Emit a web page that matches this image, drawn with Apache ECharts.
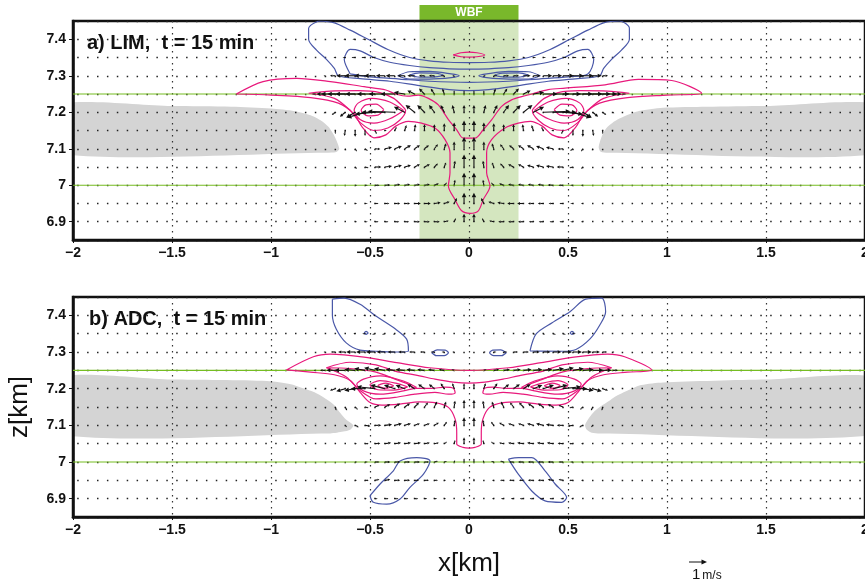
<!DOCTYPE html>
<html>
<head>
<meta charset="utf-8">
<title>LIM / ADC cross sections</title>
<script src="https://cdn.jsdelivr.net/npm/echarts@6/dist/echarts.min.js"></script>
<style>
  html, body { margin: 0; padding: 0; background: #fff; overflow: hidden; }
  #chart { width: 865px; height: 582px; }
</style>
</head>
<body>
<div id="chart"></div>
<script>
var FONT = '"Liberation Sans", Arial, Helvetica, sans-serif';

// axis ranges and tick labels
var xRange = [-2, 2];
var zRange = [6.85, 7.45];
var zTicks = [6.9, 7.0, 7.1, 7.2, 7.3, 7.4];
var greenLevels = [7.0, 7.25];
var wbfRange = [-0.25, 0.25];

// vector grid (km) and wind components (m/s), rows = vecZ, cols = vecX
var vecX = [-0.775,-0.725,-0.675,-0.625,-0.575,-0.525,-0.475,-0.425,-0.375,-0.325,-0.275,-0.225,-0.175,-0.125,-0.075,-0.025,
             0.025,0.075,0.125,0.175,0.225,0.275,0.325,0.375,0.425,0.475,0.525,0.575,0.625,0.675,0.725,0.775];
var vecZ = [6.90, 6.95, 7.00, 7.05, 7.10, 7.15, 7.20, 7.25, 7.30, 7.35, 7.40];

var uLIM = [
  [0,0,0,0.05,0.1,0.15,0.2,0.2,0.25,0.25,0.3,0.3,0.3,0.25,0.1,0, 0,-0.1,-0.25,-0.3,-0.3,-0.3,-0.25,-0.25,-0.2,-0.2,-0.15,-0.1,-0.05,0,0,0],
  [0,0,0,0.05,0.1,0.15,0.2,0.25,0.3,0.3,0.35,0.35,0.35,0.3,0.15,0, 0,-0.15,-0.3,-0.35,-0.35,-0.35,-0.3,-0.3,-0.25,-0.2,-0.15,-0.1,-0.05,0,0,0],
  [0,0,0,0,0.1,0.15,0.25,0.3,0.3,0.3,0.3,0.3,0.25,0.15,0.05,0, 0,-0.05,-0.15,-0.25,-0.3,-0.3,-0.3,-0.3,-0.3,-0.25,-0.15,-0.1,0,0,0,0],
  [0,0,0,0,0.1,0.2,0.35,0.4,0.4,0.35,0.3,0.3,0.2,0.1,0.05,0, 0,-0.05,-0.1,-0.2,-0.3,-0.3,-0.35,-0.4,-0.4,-0.35,-0.2,-0.1,0,0,0,0],
  [0,0,0,0.05,0.1,0.15,0.3,0.4,0.4,0.35,0.3,0.25,0.2,0.1,0,0, 0,0,-0.1,-0.2,-0.25,-0.3,-0.35,-0.4,-0.4,-0.3,-0.15,-0.1,-0.05,0,0,0],
  [0,0,0,-0.05,0,0,0.1,0.1,0.1,0.1,0.05,0,0,0,0,0, 0,0,0,0,0,-0.05,-0.1,-0.1,-0.1,-0.1,0,0,0.05,0,0,0],
  [0,-0.1,-0.2,-0.3,-0.5,-1.0,-1.1,-1.3,-1.5,-0.6,-0.5,-0.4,-0.3,-0.2,-0.1,0, 0,0.1,0.2,0.3,0.4,0.5,0.6,1.5,1.3,1.1,1.0,0.5,0.3,0.2,0.1,0],
  [-0.2,-0.5,-0.8,-1.0,-1.1,-1.1,-1.0,-0.9,-0.8,-0.6,-0.4,-0.3,-0.2,-0.1,0,0, 0,0,0.1,0.2,0.3,0.4,0.6,0.8,0.9,1.0,1.1,1.1,1.0,0.8,0.5,0.2],
  [0,-0.1,-0.3,-0.5,-0.6,-0.6,-0.6,-0.5,-0.5,-0.4,-0.4,-0.3,-0.3,-0.2,-0.1,0, 0,0.1,0.2,0.3,0.3,0.4,0.4,0.5,0.5,0.6,0.6,0.6,0.5,0.3,0.1,0],
  [0,0,-0.1,-0.15,-0.2,-0.2,-0.2,-0.2,-0.15,-0.15,-0.1,-0.1,-0.1,-0.05,0,0, 0,0,0.05,0.1,0.1,0.1,0.15,0.15,0.2,0.2,0.2,0.2,0.15,0.1,0,0],
  [0,0,0,-0.1,-0.15,-0.15,-0.15,-0.1,-0.1,-0.1,-0.05,0,0,0,0,0, 0,0,0,0,0,0.05,0.1,0.1,0.1,0.15,0.15,0.15,0.1,0,0,0]
];
var wLIM = [
  [0,0,0,0,0,0,0,0,0,0,0,0,0,0.05,0.2,0.45, 0.45,0.2,0.05,0,0,0,0,0,0,0,0,0,0,0,0,0],
  [0,0,0,0,0,0,0,0,0,0,0,0,0.05,0.1,0.3,0.6, 0.6,0.3,0.1,0.05,0,0,0,0,0,0,0,0,0,0,0,0],
  [0,0,0,0,0,0,0,0.02,0.05,0.05,0.05,0.05,0.1,0.15,0.3,0.7, 0.7,0.3,0.15,0.1,0.05,0.05,0.05,0.05,0.02,0,0,0,0,0,0,0],
  [0,0,0,-0.05,-0.1,-0.05,0,0.05,0.1,0.1,0.15,0.15,0.2,0.25,0.35,0.7, 0.7,0.35,0.25,0.2,0.15,0.15,0.1,0.1,0.05,0,-0.05,-0.1,-0.05,0,0,0],
  [0,0,0,-0.1,-0.15,-0.12,-0.02,0.08,0.15,0.2,0.2,0.2,0.25,0.3,0.4,0.65, 0.65,0.4,0.3,0.25,0.2,0.2,0.2,0.15,0.08,-0.02,-0.12,-0.15,-0.1,0,0,0],
  [0,-0.1,-0.2,-0.3,-0.35,-0.3,-0.2,0,0.2,0.3,0.35,0.35,0.35,0.4,0.45,0.55, 0.55,0.45,0.4,0.35,0.35,0.35,0.3,0.2,0,-0.2,-0.3,-0.35,-0.3,-0.2,-0.1,0],
  [0,-0.05,-0.15,-0.25,-0.3,-0.3,-0.1,0,0.05,0.3,0.4,0.4,0.4,0.4,0.4,0.4, 0.4,0.4,0.4,0.4,0.4,0.4,0.3,0.05,0,-0.1,-0.3,-0.3,-0.25,-0.15,-0.05,0],
  [0,0,0,0,0,0,0,0,0,0.1,0.2,0.3,0.3,0.3,0.2,0.2, 0.2,0.2,0.3,0.3,0.3,0.2,0.1,0,0,0,0,0,0,0,0,0],
  [0,0,0,0,0,0,0,0,0,0,0,0,0,0,0,0, 0,0,0,0,0,0,0,0,0,0,0,0,0,0,0,0],
  [0,0,0,0,0,0,0,0,0,0,0,0,0,0,0,0, 0,0,0,0,0,0,0,0,0,0,0,0,0,0,0,0],
  [0,0,0,0,0,0,0,0,0,0,0,0,0,0,0,0, 0,0,0,0,0,0,0,0,0,0,0,0,0,0,0,0]
];
var uADC = [
  [0,0,0,0,0.05,0.1,0.15,0.2,0.2,0.2,0.2,0.15,0.15,0.1,0.05,0, 0,-0.05,-0.1,-0.15,-0.15,-0.2,-0.2,-0.2,-0.2,-0.15,-0.1,-0.05,0,0,0,0],
  [0,0,0,0.05,0.1,0.2,0.25,0.3,0.3,0.3,0.25,0.25,0.2,0.1,0.05,0, 0,-0.05,-0.1,-0.2,-0.25,-0.25,-0.3,-0.3,-0.3,-0.25,-0.2,-0.1,-0.05,0,0,0],
  [0,0,0,0.05,0.1,0.15,0.25,0.3,0.3,0.3,0.3,0.25,0.2,0.15,0.05,0, 0,-0.05,-0.15,-0.2,-0.25,-0.3,-0.3,-0.3,-0.3,-0.25,-0.15,-0.1,-0.05,0,0,0],
  [0,0,0,0.05,0.1,0.2,0.3,0.35,0.35,0.35,0.35,0.3,0.25,0.15,0.05,0, 0,-0.05,-0.15,-0.25,-0.3,-0.35,-0.35,-0.35,-0.35,-0.3,-0.2,-0.1,-0.05,0,0,0],
  [0,0,0.05,0.1,0.2,0.3,0.35,0.4,0.4,0.35,0.3,0.3,0.25,0.15,0.05,0, 0,-0.05,-0.15,-0.25,-0.3,-0.3,-0.35,-0.4,-0.4,-0.35,-0.3,-0.2,-0.1,-0.05,0,0],
  [0,0,0.05,0.1,0.15,0.2,0.25,0.3,0.3,0.3,0.25,0.2,0.15,0.1,0.05,0, 0,-0.05,-0.1,-0.15,-0.2,-0.25,-0.3,-0.3,-0.3,-0.25,-0.2,-0.15,-0.1,-0.05,0,0],
  [0,-0.1,-0.3,-0.5,-0.6,-0.8,-1.0,-0.8,-0.6,-0.5,-0.4,-0.35,-0.3,-0.2,-0.1,0, 0,0.1,0.2,0.3,0.35,0.4,0.5,0.6,0.8,1.0,0.8,0.6,0.5,0.3,0.1,0],
  [-0.1,-0.3,-0.5,-0.6,-0.6,-0.6,-0.6,-0.6,-0.5,-0.5,-0.45,-0.4,-0.35,-0.3,-0.15,0, 0,0.15,0.3,0.35,0.4,0.45,0.5,0.5,0.6,0.6,0.6,0.6,0.6,0.5,0.3,0.1],
  [0,-0.1,-0.25,-0.4,-0.5,-0.5,-0.5,-0.45,-0.4,-0.35,-0.3,-0.25,-0.2,-0.15,-0.1,0, 0,0.1,0.15,0.2,0.25,0.3,0.35,0.4,0.45,0.5,0.5,0.5,0.4,0.25,0.1,0],
  [0,0,0,0,-0.1,-0.15,-0.15,-0.15,-0.1,-0.1,-0.1,-0.05,-0.05,0,0,0, 0,0,0,0.05,0.05,0.1,0.1,0.1,0.15,0.15,0.15,0.1,0,0,0,0],
  [0,0,0,0,-0.05,-0.1,-0.1,-0.1,-0.1,-0.05,0,0,0,0,0,0, 0,0,0,0,0,0,0.05,0.1,0.1,0.1,0.1,0.05,0,0,0,0]
];
var wADC = [
  [0,0,0,0,0,0,0,0,0,0,0,0,0,0,0,0, 0,0,0,0,0,0,0,0,0,0,0,0,0,0,0,0],
  [0,0,0,0,0,0,0.05,0.05,0,0,0,0,0,0,0.05,0.1, 0.1,0.05,0,0,0,0,0,0,0.05,0.05,0,0,0,0,0,0],
  [0,0,0,0,0,0,0,0,0,0,0,0,0.05,0.05,0.1,0.2, 0.2,0.1,0.05,0.05,0,0,0,0,0,0,0,0,0,0,0,0],
  [0,0,0,0,0,0,0.02,0.05,0.05,0.05,0.05,0.05,0.05,0.1,0.2,0.35, 0.35,0.2,0.1,0.05,0.05,0.05,0.05,0.05,0.05,0.02,0,0,0,0,0,0],
  [0,0,-0.05,-0.1,-0.1,-0.05,0,0.05,0.1,0.1,0.1,0.1,0.15,0.2,0.3,0.45, 0.45,0.3,0.2,0.15,0.1,0.1,0.1,0.1,0.05,0,-0.05,-0.1,-0.1,-0.05,0,0],
  [0,-0.1,-0.2,-0.2,-0.15,-0.05,0.1,0.15,0.2,0.2,0.25,0.25,0.3,0.3,0.35,0.4, 0.4,0.35,0.3,0.3,0.25,0.25,0.2,0.2,0.15,0.1,-0.05,-0.15,-0.2,-0.2,-0.1,0],
  [0,-0.05,-0.1,-0.15,-0.1,0,0.1,0.2,0.2,0.2,0.25,0.25,0.25,0.3,0.3,0.3, 0.3,0.3,0.3,0.25,0.25,0.25,0.2,0.2,0.2,0.1,0,-0.1,-0.15,-0.1,-0.05,0],
  [0,0,0,0,0.05,0.1,0.15,0.1,0.05,0.05,0.05,0.05,0.05,0.05,0.05,0.05, 0.05,0.05,0.05,0.05,0.05,0.05,0.05,0.05,0.1,0.15,0.1,0.05,0,0,0,0],
  [0,0,0,0,0,0,0,0,0,0,0,0,0,0,0,0, 0,0,0,0,0,0,0,0,0,0,0,0,0,0,0,0],
  [0,0,0,0,0,0,-0.05,-0.05,-0.05,-0.05,0,0,0,0,0,0, 0,0,0,0,0,0,-0.05,-0.05,-0.05,-0.05,0,0,0,0,0,0],
  [0,0,0,0,0,0,0,0,0,0,0,0,0,0,0,0, 0,0,0,0,0,0,0,0,0,0,0,0,0,0,0,0]
];

// shaded cloud layers [x km, z km]
var cloudLIM = [
  [[-2.1,7.218],[-1.5,7.217],[-1.2,7.215],[-1.0,7.21],[-0.88,7.203],[-0.80,7.192],[-0.75,7.178],[-0.71,7.16],[-0.68,7.135],[-0.655,7.10],[-0.67,7.091],[-0.72,7.089],[-2.1,7.089]],
  [[2.1,7.218],[1.5,7.217],[1.2,7.215],[0.98,7.212],[0.85,7.202],[0.75,7.18],[0.70,7.16],[0.675,7.14],[0.655,7.105],[0.665,7.092],[0.70,7.089],[2.1,7.089]]
];
var cloudADC = [
  [[-2.1,7.227],[-1.5,7.225],[-1.02,7.221],[-0.90,7.212],[-0.85,7.203],[-0.78,7.19],[-0.72,7.171],[-0.68,7.155],[-0.652,7.135],[-0.62,7.115],[-0.584,7.10],[-0.60,7.088],[-0.635,7.083],[-0.70,7.078],[-2.1,7.078]],
  [[2.1,7.226],[1.5,7.225],[0.98,7.217],[0.87,7.21],[0.813,7.198],[0.75,7.182],[0.695,7.162],[0.655,7.148],[0.628,7.135],[0.60,7.115],[0.586,7.10],[0.595,7.088],[0.62,7.08],[0.66,7.078],[2.1,7.078]]
];

// contour lines [x km, z km]
var pinkLIM = [
  [[-1.175,7.250],[-1.04,7.284],[-0.87,7.293],[-0.70,7.284],[-0.53,7.270],[-0.42,7.261],[-0.37,7.250],[-0.31,7.244],[-0.256,7.247],[-0.205,7.238],[-0.155,7.220],[-0.104,7.180],[-0.062,7.152],[-0.029,7.129],[0.030,7.129],[0.072,7.152],[0.114,7.179],[0.165,7.216],[0.215,7.234],[0.266,7.243],[0.317,7.250],[0.40,7.262],[0.485,7.266],[0.687,7.275],[0.855,7.290],[1.024,7.287],[1.175,7.252],[1.0,7.247],[0.80,7.240],[0.66,7.225],[0.58,7.195],[0.54,7.160],[0.48,7.130],[0.42,7.138],[0.37,7.162],[0.31,7.175],[0.249,7.170],[0.182,7.157],[0.114,7.125],[0.089,7.089],[0.089,7.034],[0.106,6.998],[0.072,6.961],[0.047,6.930],[0.005,6.923],[-0.037,6.930],[-0.071,6.961],[-0.104,6.998],[-0.096,7.034],[-0.096,7.089],[-0.121,7.125],[-0.172,7.157],[-0.239,7.170],[-0.306,7.175],[-0.37,7.162],[-0.42,7.138],[-0.48,7.130],[-0.54,7.160],[-0.58,7.195],[-0.66,7.225],[-0.80,7.240],[-1.0,7.247],[-1.175,7.250]],
  [[-0.81,7.252],[-0.70,7.258],[-0.56,7.259],[-0.45,7.254],[-0.38,7.238],[-0.33,7.213],[-0.32,7.205],[-0.35,7.178],[-0.41,7.157],[-0.48,7.150],[-0.55,7.172],[-0.60,7.205],[-0.68,7.238],[-0.81,7.252]],
  [[0.81,7.252],[0.70,7.258],[0.56,7.259],[0.45,7.254],[0.38,7.238],[0.33,7.213],[0.32,7.205],[0.35,7.178],[0.41,7.157],[0.48,7.150],[0.55,7.172],[0.60,7.205],[0.68,7.238],[0.81,7.252]],
  [[-0.33,7.205],[-0.40,7.228],[-0.49,7.238],[-0.56,7.225],[-0.58,7.205],[-0.55,7.180],[-0.48,7.170],[-0.40,7.182],[-0.33,7.205]],
  [[0.33,7.205],[0.40,7.228],[0.49,7.238],[0.56,7.225],[0.58,7.205],[0.55,7.180],[0.48,7.170],[0.40,7.182],[0.33,7.205]],
  [[-0.43,7.207],[-0.47,7.222],[-0.52,7.220],[-0.545,7.205],[-0.51,7.190],[-0.46,7.192],[-0.43,7.207]],
  [[0.43,7.207],[0.47,7.222],[0.52,7.220],[0.545,7.205],[0.51,7.190],[0.46,7.192],[0.43,7.207]],
  [[-0.08,7.357],[-0.04,7.363],[0,7.365],[0.04,7.363],[0.08,7.357],[0.04,7.352],[0,7.351],[-0.04,7.352],[-0.08,7.357]]
];
var blueLIM = [
  [[-0.76,7.450],[-0.68,7.445],[-0.60,7.425],[-0.51,7.400],[-0.41,7.372],[-0.30,7.350],[-0.20,7.341],[-0.10,7.337],[0,7.336],[0.10,7.337],[0.20,7.341],[0.30,7.350],[0.41,7.372],[0.51,7.400],[0.60,7.425],[0.68,7.445],[0.76,7.450],[0.81,7.430],[0.81,7.400],[0.77,7.370],[0.72,7.345],[0.68,7.320],[0.66,7.300],[0.55,7.292],[0.40,7.285],[0.25,7.273],[0.10,7.262],[0,7.259],[-0.10,7.262],[-0.25,7.273],[-0.40,7.285],[-0.55,7.292],[-0.66,7.300],[-0.68,7.320],[-0.72,7.345],[-0.77,7.370],[-0.81,7.400],[-0.81,7.430],[-0.76,7.450]],
  [[-0.60,7.305],[-0.63,7.345],[-0.60,7.372],[-0.55,7.368],[-0.48,7.350],[-0.40,7.337],[-0.30,7.328],[-0.20,7.322],[-0.10,7.319],[0,7.318],[0.10,7.319],[0.20,7.322],[0.30,7.328],[0.40,7.337],[0.48,7.350],[0.55,7.368],[0.60,7.372],[0.63,7.345],[0.60,7.305],[0.50,7.297],[0.35,7.291],[0.20,7.285],[0,7.282],[-0.20,7.285],[-0.35,7.291],[-0.50,7.297],[-0.60,7.305]],
  [[-0.36,7.300],[-0.30,7.311],[-0.20,7.312],[-0.09,7.305],[-0.05,7.300],[-0.09,7.295],[-0.20,7.291],[-0.30,7.291],[-0.36,7.300]],
  [[0.36,7.300],[0.30,7.311],[0.20,7.312],[0.09,7.305],[0.05,7.300],[0.09,7.295],[0.20,7.291],[0.30,7.291],[0.36,7.300]],
  [[-0.30,7.302],[-0.25,7.308],[-0.17,7.307],[-0.13,7.302],[-0.17,7.297],[-0.25,7.296],[-0.30,7.302]],
  [[0.30,7.302],[0.25,7.308],[0.17,7.307],[0.13,7.302],[0.17,7.297],[0.25,7.296],[0.30,7.302]]
];
var pinkADC = [
  [[-0.922,7.251],[-0.786,7.287],[-0.70,7.294],[-0.53,7.286],[-0.365,7.271],[-0.2,7.257],[0,7.250],[0.2,7.257],[0.365,7.271],[0.53,7.286],[0.70,7.294],[0.786,7.287],[0.922,7.251],[0.80,7.245],[0.68,7.238],[0.60,7.222],[0.55,7.19],[0.50,7.162],[0.44,7.155],[0.35,7.158],[0.25,7.164],[0.172,7.162],[0.104,7.149],[0.07,7.117],[0.062,7.08],[0.062,7.049],[0.03,7.040],[0,7.038],[-0.03,7.040],[-0.062,7.049],[-0.062,7.08],[-0.07,7.117],[-0.104,7.149],[-0.172,7.162],[-0.25,7.164],[-0.35,7.158],[-0.44,7.155],[-0.50,7.162],[-0.55,7.19],[-0.60,7.222],[-0.68,7.238],[-0.80,7.245],[-0.922,7.251]],
  [[-0.72,7.257],[-0.60,7.272],[-0.47,7.265],[-0.374,7.248],[-0.25,7.235],[-0.172,7.226],[-0.08,7.218],[0,7.215],[0.08,7.218],[0.172,7.226],[0.25,7.235],[0.374,7.248],[0.47,7.265],[0.60,7.272],[0.72,7.257]],
  [[-0.72,7.257],[-0.62,7.232],[-0.55,7.195],[-0.47,7.172],[-0.374,7.176],[-0.273,7.185],[-0.172,7.19],[-0.104,7.185],[-0.07,7.189],[-0.079,7.201],[-0.121,7.204],[-0.188,7.201],[-0.273,7.201],[-0.306,7.212],[-0.374,7.226],[-0.47,7.245],[-0.60,7.255],[-0.72,7.257]],
  [[0.72,7.257],[0.62,7.232],[0.55,7.195],[0.47,7.172],[0.374,7.176],[0.273,7.185],[0.172,7.19],[0.104,7.185],[0.07,7.189],[0.079,7.201],[0.121,7.204],[0.188,7.201],[0.273,7.201],[0.306,7.212],[0.374,7.226],[0.47,7.245],[0.60,7.255],[0.72,7.257]],
  [[-0.264,7.203],[-0.331,7.221],[-0.449,7.235],[-0.533,7.226],[-0.567,7.212],[-0.533,7.194],[-0.449,7.185],[-0.331,7.194],[-0.264,7.203]],
  [[0.264,7.203],[0.331,7.221],[0.449,7.235],[0.533,7.226],[0.567,7.212],[0.533,7.194],[0.449,7.185],[0.331,7.194],[0.264,7.203]],
  [[-0.31,7.205],[-0.37,7.215],[-0.45,7.222],[-0.50,7.21],[-0.46,7.197],[-0.38,7.196],[-0.31,7.205]],
  [[0.31,7.205],[0.37,7.215],[0.45,7.222],[0.50,7.21],[0.46,7.197],[0.38,7.196],[0.31,7.205]],
  [[-0.38,7.208],[-0.42,7.215],[-0.46,7.208],[-0.42,7.201],[-0.38,7.208]],
  [[0.38,7.208],[0.42,7.215],[0.46,7.208],[0.42,7.201],[0.38,7.208]]
];
var blueADC = [
  [[-0.69,7.444],[-0.63,7.447],[-0.55,7.43],[-0.47,7.398],[-0.37,7.362],[-0.315,7.335],[-0.306,7.303],[-0.38,7.300],[-0.47,7.302],[-0.55,7.305],[-0.62,7.325],[-0.67,7.362],[-0.69,7.40],[-0.69,7.444]],
  [[0.308,7.303],[0.34,7.35],[0.42,7.38],[0.51,7.41],[0.59,7.444],[0.67,7.447],[0.69,7.41],[0.66,7.373],[0.61,7.335],[0.54,7.307],[0.475,7.302],[0.308,7.303]],
  [[-0.53,7.352],[-0.52,7.356],[-0.51,7.352],[-0.52,7.348],[-0.53,7.352]],
  [[0.51,7.352],[0.52,7.356],[0.53,7.352],[0.52,7.348],[0.51,7.352]],
  [[-0.188,7.298],[-0.16,7.306],[-0.12,7.305],[-0.104,7.298],[-0.125,7.29],[-0.165,7.29],[-0.188,7.298]],
  [[0.188,7.298],[0.16,7.306],[0.12,7.305],[0.104,7.298],[0.125,7.29],[0.165,7.29],[0.188,7.298]],
  [[-0.5,6.908],[-0.449,6.94],[-0.382,6.976],[-0.348,7.003],[-0.264,7.012],[-0.197,7.003],[-0.23,6.967],[-0.298,6.931],[-0.348,6.899],[-0.416,6.885],[-0.483,6.89],[-0.5,6.908]],
  [[0.199,7.008],[0.25,7.012],[0.317,7.012],[0.384,6.976],[0.435,6.94],[0.493,6.903],[0.468,6.89],[0.384,6.894],[0.317,6.921],[0.249,6.967],[0.199,7.008]]
];

var PINK = '#e8197c', BLUE = '#4a58a8', GREEN = '#76bd22', GRAY = '#d4d4d4';
var ARROW_PX = 18; // pixels per 1 m/s

var chart = echarts.init(document.getElementById('chart'));

function fmtX(v) { return v < 0 ? '\u2212' + (-v) : String(v); }
function fmtZ(v) { return String(Math.round(v * 10) / 10); }

function xAxisFor(g, named) {
  return {
    type: 'value', gridIndex: g, min: xRange[0], max: xRange[1], interval: 0.5,
    axisLine: { show: true, onZero: false, lineStyle: { color: '#111', width: 2.5 } },
    axisTick: { show: true, length: 3, lineStyle: { color: '#111' } },
    axisLabel: { formatter: fmtX, fontSize: 14, fontWeight: 'bold', color: '#111', fontFamily: FONT, margin: 6 },
    splitLine: { show: true, lineStyle: { color: '#333', width: 1.2, type: [1.5, 4.5] } },
    name: named ? 'x[km]' : '', nameLocation: 'middle', nameGap: 34,
    nameTextStyle: { fontSize: 26, fontFamily: FONT, color: '#111' }
  };
}
function yAxisFor(g, named) {
  return {
    type: 'value', gridIndex: g, min: zRange[0], max: zRange[1], position: 'left',
    axisLine: { show: true, onZero: false, lineStyle: { color: '#111', width: 2.5 } },
    axisTick: { show: true, length: 4, customValues: zTicks, lineStyle: { color: '#111' } },
    axisLabel: { customValues: zTicks, formatter: fmtZ, fontSize: 14, fontWeight: 'bold', color: '#111', fontFamily: FONT, margin: 7 },
    splitLine: { show: false },
    name: named ? 'z[km]' : '', nameLocation: 'middle', nameGap: 40, nameRotate: 90,
    nameTextStyle: { fontSize: 26, fontFamily: FONT, color: '#111' }
  };
}
function dotAxisFor(g) {
  return {
    type: 'value', gridIndex: g, min: zRange[0], max: zRange[1], interval: 0.05, position: 'right',
    axisLine: { show: false }, axisTick: { show: false }, axisLabel: { show: false },
    splitLine: { show: true, lineStyle: { color: '#222', width: 1.3, type: [1.5, 8.4], dashOffset: 5.7 } }
  };
}

function contourSeries(list, color, g) {
  return list.map(function (pts) {
    return {
      type: 'line', xAxisIndex: g, yAxisIndex: g * 2, data: pts, symbol: 'none', smooth: 0.3,
      silent: true, z: 3, lineStyle: { color: color, width: 1.2 }
    };
  });
}
function cloudSeries(list, g) {
  return {
    type: 'custom', xAxisIndex: g, yAxisIndex: g * 2, z: -1, silent: true, clip: true,
    data: list.map(function (p, i) { return [i, 7]; }),
    renderItem: function (params, api) {
      var pts = list[params.dataIndex].map(function (d) { return api.coord(d); });
      return { type: 'polygon', shape: { points: pts, smooth: 0.25 }, style: { fill: GRAY } };
    }
  };
}
function greenSeries(g) {
  return greenLevels.map(function (z) {
    return {
      type: 'line', xAxisIndex: g, yAxisIndex: g * 2, data: [[xRange[0], z], [xRange[1], z]],
      symbol: 'none', silent: true, z: 2, lineStyle: { color: GREEN, width: 1.2 }
    };
  });
}
function vectorSeries(u, w, g) {
  var data = [];
  vecZ.forEach(function (z, r) {
    vecX.forEach(function (x, c) {
      if (u[r][c] !== 0 || w[r][c] !== 0) data.push([x, z, u[r][c], w[r][c]]);
    });
  });
  return {
    type: 'custom', xAxisIndex: g, yAxisIndex: g * 2, z: 5, silent: true, clip: true,
    dimensions: ['x', 'z', 'u', 'w'], encode: { x: 0, y: 1 }, data: data,
    renderItem: function (params, api) {
      var p = api.coord([api.value(0), api.value(1)]);
      var dx = api.value(2) * ARROW_PX, dy = -api.value(3) * ARROW_PX;
      var len = Math.sqrt(dx * dx + dy * dy);
      if (len < 1.5) return null;
      var ux = dx / len, uy = dy / len;
      var hl = Math.min(4.5, len * 0.45), hw = hl * 0.5;
      var tip = [p[0] + dx, p[1] + dy];
      var b = [tip[0] - ux * hl, tip[1] - uy * hl];
      return {
        type: 'group', children: [
          { type: 'line', shape: { x1: p[0], y1: p[1], x2: b[0], y2: b[1] }, style: { stroke: '#111', lineWidth: 1.1 } },
          { type: 'polygon', shape: { points: [tip, [b[0] - uy * hw, b[1] + ux * hw], [b[0] + uy * hw, b[1] - ux * hw]] }, style: { fill: '#111' } }
        ]
      };
    }
  };
}

var wbfSeries = {
  type: 'custom', xAxisIndex: 0, yAxisIndex: 0, z: -1, silent: true, clip: false,
  data: [[0, 7]],
  renderItem: function (params, api) {
    var tl = api.coord([wbfRange[0], zRange[1]]);
    var br = api.coord([wbfRange[1], zRange[0]]);
    return {
      type: 'group', children: [
        { type: 'rect', shape: { x: tl[0], y: tl[1], width: br[0] - tl[0], height: br[1] - tl[1] }, style: { fill: '#d4e6bf' } },
        { type: 'rect', shape: { x: tl[0], y: tl[1] - 16, width: br[0] - tl[0], height: 16 }, style: { fill: '#79b82b' } },
        { type: 'text', style: { text: 'WBF', x: (tl[0] + br[0]) / 2, y: tl[1] - 8, align: 'center', verticalAlign: 'middle', fill: '#fff', font: 'bold 12px ' + FONT } }
      ]
    };
  }
};

var series = [wbfSeries, cloudSeries(cloudLIM, 0), cloudSeries(cloudADC, 1)]
  .concat(greenSeries(0), greenSeries(1))
  .concat(contourSeries(pinkLIM, PINK, 0), contourSeries(blueLIM, BLUE, 0))
  .concat(contourSeries(pinkADC, PINK, 1), contourSeries(blueADC, BLUE, 1))
  .concat([vectorSeries(uLIM, wLIM, 0), vectorSeries(uADC, wADC, 1)]);

var titleStyle = { fontSize: 20, fontWeight: 'bold', fontFamily: FONT, color: '#111' };

chart.setOption({
  animation: false,
  backgroundColor: '#fff',
  title: [
    { text: 'a) LIM,  t = 15 min', left: 87, top: 33, padding: 0, textStyle: titleStyle },
    { text: 'b) ADC,  t = 15 min', left: 89, top: 309, padding: 0, textStyle: titleStyle }
  ],
  grid: [
    { left: 73, top: 21, width: 792, height: 219, show: true, borderColor: '#111', borderWidth: 2.5,
      backgroundColor: 'transparent', containLabel: false, outerBoundsMode: 'none' },
    { left: 73, top: 297, width: 792, height: 220, show: true, borderColor: '#111', borderWidth: 2.5,
      backgroundColor: 'transparent', containLabel: false, outerBoundsMode: 'none' }
  ],
  xAxis: [xAxisFor(0, false), xAxisFor(1, true)],
  yAxis: [yAxisFor(0, false), dotAxisFor(0), yAxisFor(1, true), dotAxisFor(1)],
  graphic: [
    { type: 'line', shape: { x1: 689, y1: 562, x2: 703, y2: 562 }, style: { stroke: '#111', lineWidth: 1 } },
    { type: 'polygon', shape: { points: [[707, 562], [701.5, 559.5], [701.5, 564.5]] }, style: { fill: '#111' } },
    { type: 'text', x: 692, y: 567, style: { text: '{a|1}{b|m/s}', fill: '#111',
      rich: { a: { fontSize: 15, fontFamily: FONT, padding: [0, 2, 0, 0] }, b: { fontSize: 12, fontFamily: FONT, verticalAlign: 'bottom' } } } }
  ],
  series: series
});
</script>
</body>
</html>
